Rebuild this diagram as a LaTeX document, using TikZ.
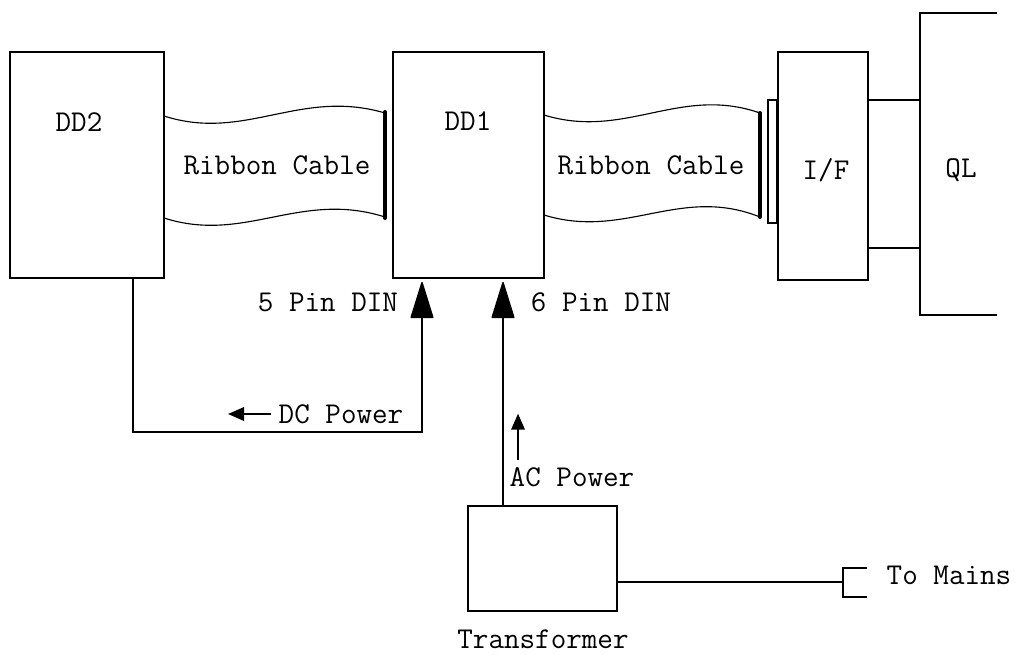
\documentclass[tikz,border=0pt]{standalone}
\usepackage{fontspec}
\usetikzlibrary{arrows.meta,positioning}

\begin{document}
\begin{tikzpicture}[x=0.025cm,y=-0.025cm,
  unitbox/.style={draw,line width=1.3pt,inner sep=0pt,outer sep=0pt},
  lbl/.style={font=\ttfamily\fontsize{21.5}{26}\selectfont,inner sep=1pt},
  wave/.style={line width=0.8pt},
  ribbonbar/.style={line width=2.8pt,line cap=round},
  link/.style={line width=1.1pt},
  dinarrow/.style={link,-{Triangle[length=0.95cm,width=0.58cm,round]}},
  pwrarrow/.style={link,-{Triangle[length=0.4cm,width=0.34cm]}}
]
  \useasboundingbox (0,0) rectangle (1015,654);
  % Units
  \node[unitbox,minimum width=3.85cm,minimum height=5.65cm] (dd2) at (87,165) {};
  \node[unitbox,minimum width=3.775cm,minimum height=5.65cm] (dd1) at (468.5,165) {};
  \node[unitbox,minimum width=2.25cm,minimum height=5.7cm] (ifbox) at (823,166) {};
  \node[unitbox,minimum width=3.725cm,minimum height=2.625cm] (trans) at (542.5,558.5) {};
  \node[draw,line width=0.9pt,inner sep=0pt,minimum width=0.225cm,minimum height=3.075cm] (ifplug) at (772.5,161.5) {};
  % QL (open on the right)
  \draw[unitbox] (997,13) -- (920,13) -- (920,315) -- (997,315);
  \coordinate (qlupper) at (920,100);
  \coordinate (qllower) at (920,248);
  % Labels
  \node[lbl] (dd2lbl) at (79,122) {DD2};
  \node[lbl] (dd1lbl) at (468,121) {DD1};
  \node[lbl] (iflbl) at (826,170) {I/F};
  \node[lbl] (qllbl) at (961,170) {QL};
  \node[lbl] (rc1lbl) at (277,165) {Ribbon Cable};
  \node[lbl] (rc2lbl) at (651,165) {Ribbon Cable};
  \node[lbl] (pin5lbl) at (328,302) {5 Pin DIN};
  \node[lbl] (pin6lbl) at (601,302) {6 Pin DIN};
  \node[lbl] (dcpower) at (341,414) {DC Power};
  \node[lbl] (acpower) at (572,477) {AC Power};
  \node[lbl] (translbl) at (543,639) {Transformer};
  \node[lbl] (mainslbl) at (949,575) {To Mains};
  % Ribbon cables
  \draw[wave] (164,116) .. controls (245,142) and (300,88) .. (385,113);
  \draw[wave] (164,218) .. controls (245,244) and (300,190) .. (385,217);
  \draw[ribbonbar] (385,112) -- (385,218);
  \draw[wave] (544,115) .. controls (625,140) and (680,85) .. (760,113);
  \draw[wave] (544,215) .. controls (625,240) and (680,185) .. (760,217);
  \draw[ribbonbar] (760,113) -- (760,217);
  % I/F to QL
  \draw[link] (ifbox.east |- qlupper) -- (qlupper);
  \draw[link] (ifbox.east |- qllower) -- (qllower);
  % Power connections
  \coordinate (dcout) at (133,278);
  \coordinate (pin5) at (422,282);
  \coordinate (pin6) at (503,282);
  \draw[dinarrow] (dd2.south -| dcout) -- ++(0,154) -| (pin5);
  \draw[dinarrow] (trans.north -| pin6) -- (pin6);
  \draw[pwrarrow] ([xshift=-0.15cm]dcpower.west) -- ++(-43,0);
  \draw[pwrarrow] ([xshift=0.25cm,yshift=0.15cm]acpower.north west) -- ++(0,-46);
  % Mains plug
  \coordinate (plug) at (843,582);
  \draw[link] (trans.east |- plug) -- (plug);
  \draw[link] (plug) ++(24,-14) -| ++(-24,29) -- ++(24,0);
\end{tikzpicture}
\end{document}
